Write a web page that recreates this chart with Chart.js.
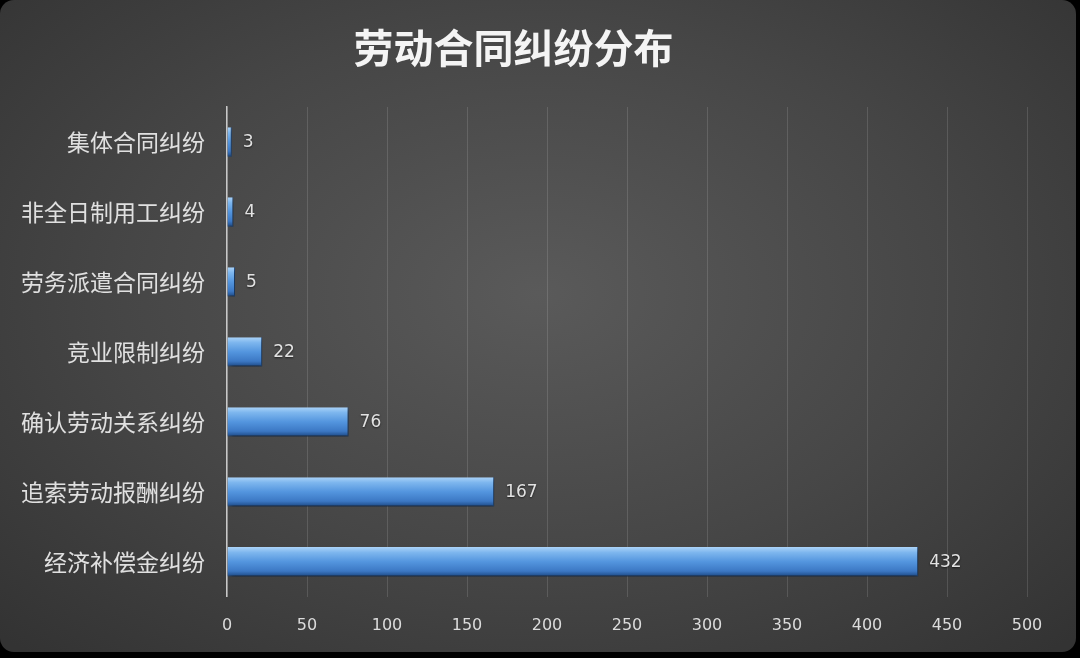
<!DOCTYPE html>
<html><head><meta charset="utf-8">
<script src="https://cdn.jsdelivr.net/npm/chart.js@4/dist/chart.umd.min.js"></script>
<style>
html,body{margin:0;padding:0;background:#000;width:1080px;height:658px;overflow:hidden;}
#frame{position:absolute;left:0;top:0;width:1076px;height:652px;border-radius:14px;
background:radial-gradient(ellipse 70% 75% at 50% 45%, #5a5a5a 0%, #464646 55%, #333 100%);}
#wrap{position:absolute;left:0;top:0;width:1080px;height:658px;}
</style></head>
<body><div id="frame"></div><div id="wrap"><canvas id="c"></canvas></div>
<script>
const title = '劳动合同纠纷分布';
const categories = ['集体合同纠纷','非全日制用工纠纷','劳务派遣合同纠纷','竞业限制纠纷','确认劳动关系纠纷','追索劳动报酬纠纷','经济补偿金纠纷'];
const values = [3,4,5,22,76,167,432];
const xMin = 0, xMax = 500, xStep = 50;

const shadowPlugin = {
  id:'shadow',
  beforeDatasetsDraw(chart){const c=chart.ctx;c.save();c.shadowColor='rgba(0,0,0,0.55)';c.shadowBlur=5;c.shadowOffsetY=3;c.shadowOffsetX=2;},
  afterDatasetsDraw(chart){
    chart.ctx.restore();
    const c=chart.ctx;c.save();
    c.font='17px "DejaVu Sans", "Liberation Sans", sans-serif';
    c.fillStyle='#e2e2e2';c.textBaseline='middle';c.textAlign='left';
    c.shadowColor='rgba(0,0,0,0.6)';c.shadowBlur=2;c.shadowOffsetY=1;
    chart.getDatasetMeta(0).data.forEach((el,i)=>{c.fillText(String(values[i]),el.x+11,el.y+1);});
    c.restore();
  }
};

new Chart(document.getElementById('c'),{
  type:'bar',
  data:{labels:categories,datasets:[{data:values,
    backgroundColor:(ctx)=>{
      const ch=ctx.chart; const ys=ch.scales&&ch.scales.y;
      if(!ys||!ch.chartArea) return '#4f8fdb';
      const cy=ys.getPixelForValue(ctx.dataIndex); const h=14.5;
      const g=ch.ctx.createLinearGradient(0,cy-h,0,cy+h);
      g.addColorStop(0,'#a9d2f8');g.addColorStop(0.18,'#7db6ee');g.addColorStop(0.5,'#5395de');
      g.addColorStop(0.82,'#3c78c4');g.addColorStop(1,'#1d4a86');return g;},
    borderColor:'#2a5a98',borderWidth:{top:0,bottom:1,left:0,right:1},
    barPercentage:0.42,categoryPercentage:1}]},
  options:{
    indexAxis:'y',responsive:true,maintainAspectRatio:false,animation:false,
    devicePixelRatio:1,
    layout:{padding:{top:0,right:53,bottom:4,left:0}},
    plugins:{
      legend:{display:false},tooltip:{enabled:false},
      title:{display:true,text:title,color:'#f4f4f4',
        font:{family:'"Noto Sans CJK SC", sans-serif',size:40,weight:'bold'},
        padding:{top:24,bottom:35}}
    },
    scales:{
      x:{min:xMin,max:xMax,
        ticks:{stepSize:xStep,color:'#dcdcdc',padding:19,
          font:{family:'"DejaVu Sans", sans-serif',size:16}},
        grid:{color:'rgba(255,255,255,0.13)',lineWidth:1,drawTicks:false},
        border:{display:false}},
      y:{
        afterFit:(s)=>{s.width=227;},
        ticks:{color:'#e0e0e0',padding:22,
          font:{family:'"Noto Sans CJK SC", sans-serif',size:23}},
        grid:{display:false,drawTicks:false},
        border:{display:true,color:'#c8c8c8',width:1.5}}
    }
  },
  plugins:[shadowPlugin]
});
</script></body></html>
